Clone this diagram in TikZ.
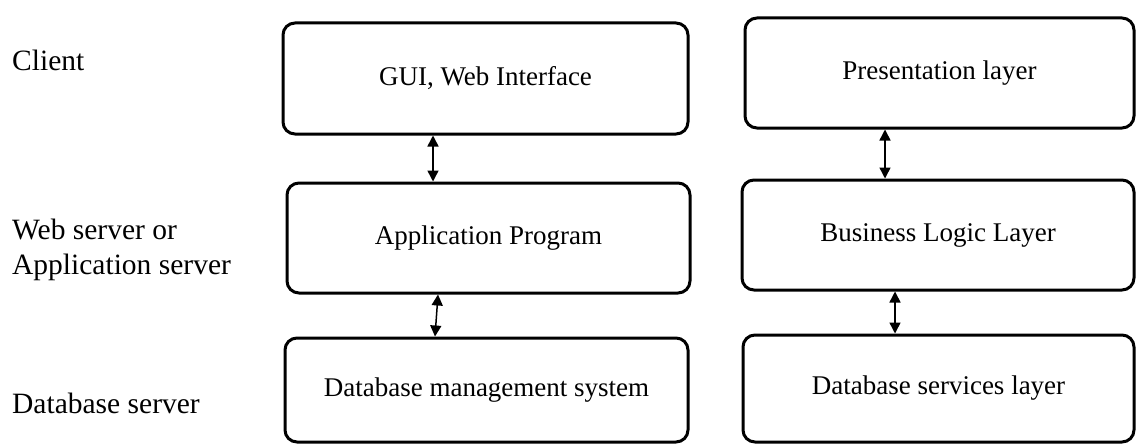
\documentclass[tikz,border=0pt]{standalone}
\usepackage{fontspec}
\setmainfont{Liberation Serif}
\usetikzlibrary{arrows.meta}
\begin{document}
\begin{tikzpicture}[x=1pt,y=-1pt,
  layerbox/.style={draw=black, line width=3pt, rounded corners=12pt, inner sep=0pt, fill=white,
    font=\fontsize{27}{32}\selectfont},
  tierlabel/.style={anchor=west, align=left, inner sep=0pt, font=\fontsize{29.5}{35}\selectfont},
  link/.style={line width=1.5pt, {Triangle[width=11pt,length=11pt]}-{Triangle[width=11pt,length=11pt]}}]
\useasboundingbox (0,0) rectangle (1137,444);
% left column
\node[layerbox, minimum width=405pt, minimum height=111pt] (gui) at (485.5,78.5) {GUI, Web Interface};
\node[layerbox, minimum width=403pt, minimum height=110pt] (app) at (488.5,238) {Application Program};
\node[layerbox, minimum width=403pt, minimum height=104pt] (dbms) at (486.5,390) {Database management system};
% right column
\node[layerbox, minimum width=389pt, minimum height=110pt] (pres) at (939.5,73) {Presentation layer};
\node[layerbox, minimum width=392pt, minimum height=110pt] (blog) at (938,235) {Business Logic Layer};
\node[layerbox, minimum width=391pt, minimum height=107pt] (dbsv) at (938.5,388.5) {Database services layer};
% tier labels
\node[tierlabel] (client) at (12,60) {Client};
\node[tierlabel] (web) at (12,250) {Web server or\\Application server};
\node[tierlabel] (dbserver) at (12,403) {Database server};
% connectors
\draw[link] ([xshift=-52.5pt]gui.south) -- ([xshift=-55.5pt]app.north);
\draw[link] ([xshift=-50.5pt]app.south) -- ([xshift=-51.5pt]dbms.north);
\draw[link] ([xshift=-54.5pt]pres.south) -- ([xshift=-53pt]blog.north);
\draw[link] ([xshift=-43pt]blog.south) -- ([xshift=-43.5pt]dbsv.north);
\end{tikzpicture}
\end{document}
